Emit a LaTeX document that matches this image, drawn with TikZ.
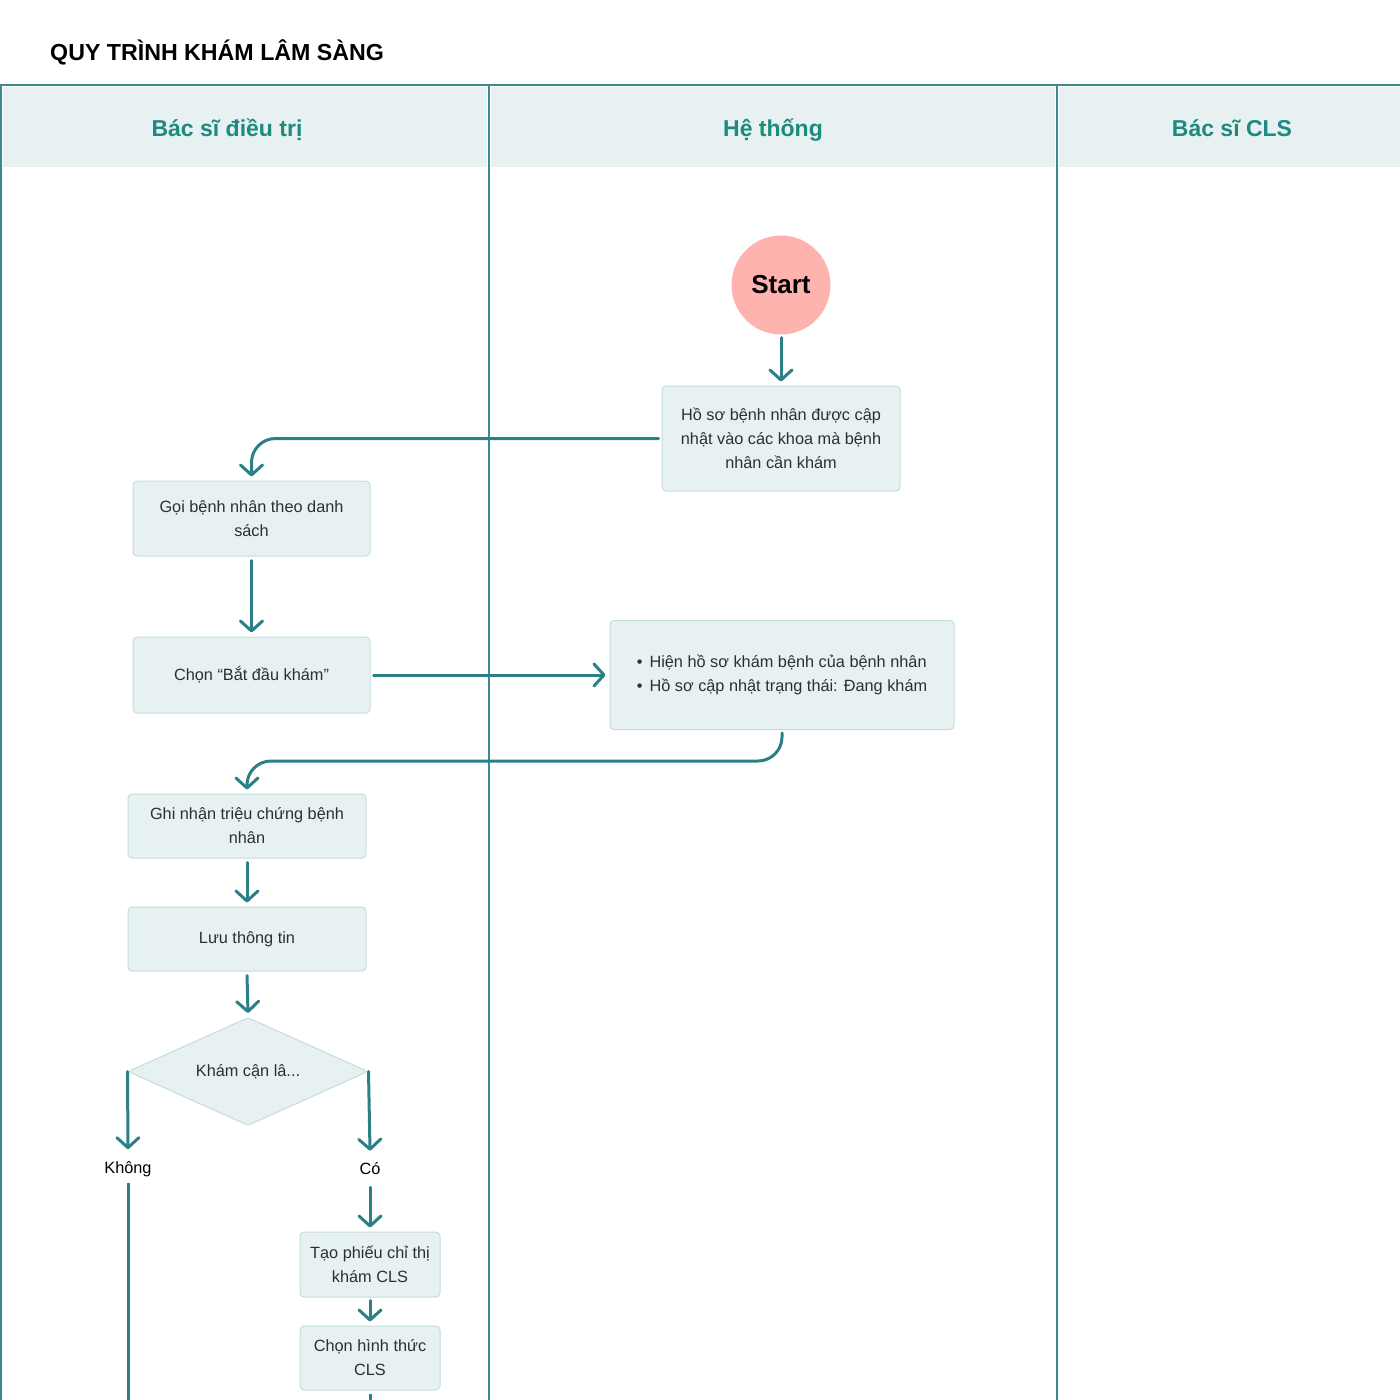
\documentclass[tikz,border=0pt]{standalone}
\usepackage{fontspec}
\setmainfont{Liberation Sans}
\usetikzlibrary{arrows.meta,shapes.geometric}
\definecolor{tealc}{HTML}{2B8086}
\definecolor{lanec}{HTML}{3A8A8E}
\definecolor{headfill}{HTML}{E8F1F2}
\definecolor{headtxt}{HTML}{1E897F}
\definecolor{boxfill}{HTML}{E8F1F2}
\definecolor{boxline}{HTML}{C3DDDF}
\definecolor{txt}{HTML}{2E2E2E}
\definecolor{startfill}{HTML}{FFB3AF}
\tikzset{
  body/.style={font=\fontsize{16.3}{24}\selectfont, text=txt},
  stepbox/.style={body, draw=boxline, fill=boxfill, line width=1pt, rounded corners=4pt, align=center, inner sep=0pt},
  decide/.style={body, diamond, aspect=2.3, draw=boxline, fill=boxfill, line width=1pt, rounded corners=3pt, inner sep=0pt, minimum width=240pt, minimum height=108pt},
  arr/.style={draw=tealc, line width=3pt, line cap=round, line join=round, -{Straight Barb[length=10pt,width=22pt,line cap=round,line join=round]}},
  plain/.style={draw=tealc, line width=3pt},
  lane/.style={draw=lanec, line width=2pt},
  lanehead/.style={font=\fontsize{23}{28}\selectfont\bfseries, text=headtxt},
  lbl/.style={font=\fontsize{16.3}{20}\selectfont, text=black, inner sep=2pt}
}
\begin{document}
\begin{tikzpicture}[x=1pt,y=-1pt]
\useasboundingbox (0,0) rectangle (1400,1400);
\fill[white] (0,0) rectangle (1400,1400);
% title
\node[anchor=base west, font=\fontsize{23.2}{28}\selectfont\bfseries, inner sep=0pt] (title) at (50,60) {QUY TRÌNH KHÁM LÂM SÀNG};
% header fills
\fill[headfill] (3,87) rectangle (487,167);
\fill[headfill] (491,87) rectangle (1055,167);
\fill[headfill] (1059,87) rectangle (1400,167);
% lane lines
\draw[lane] (0,85) -- (1400,85);
\draw[lane] (1,85) -- (1,1400);
\draw[lane] (489,85) -- (489,1400);
\draw[lane] (1057,85) -- (1057,1400);
% lane titles
\node[lanehead, anchor=base] (l1) at (227,136) {Bác sĩ điều trị};
\node[lanehead, anchor=base] (l2) at (773,136) {Hệ thống};
\node[lanehead, anchor=base] (l3) at (1232,136) {Bác sĩ CLS};
% nodes
\node[circle, fill=startfill, minimum size=99pt, inner sep=0pt, font=\fontsize{26}{30}\selectfont\bfseries] (start) at (781,285) {Start};
\node[stepbox, minimum width=238pt, minimum height=105pt] (b1) at (781,438.5) {Hồ sơ bệnh nhân được cập\\nhật vào các khoa mà bệnh\\nhân cần khám};
\node[stepbox, minimum width=237pt, minimum height=75pt] (b2) at (251.5,518.5) {Gọi bệnh nhân theo danh\\sách};
\node[stepbox, minimum width=237pt, minimum height=76pt] (b3) at (251.5,675) {Chọn “Bắt đầu khám”};
\node[stepbox, minimum width=344pt, minimum height=109pt, align=left] (b4) at (782,675) {\textbullet\hspace{7pt}Hiện hồ sơ khám bệnh của bệnh nhân\\\textbullet\hspace{7pt}Hồ sơ cập nhật trạng thái: Đang khám};
\node[stepbox, minimum width=238pt, minimum height=64pt] (b5) at (247,826) {Ghi nhận triệu chứng bệnh\\nhân};
\node[stepbox, minimum width=238pt, minimum height=64pt] (b6) at (247,939) {Lưu thông tin};
\node[decide] (d1) at (248,1071.5) {Khám cận lâ...};
\node[lbl] (no) at (128,1169) {Không};
\node[lbl] (yes) at (370,1169) {Có};
\node[stepbox, minimum width=140pt, minimum height=65pt] (b7) at (370,1264.5) {Tạo phiếu chỉ thị\\khám CLS};
\node[stepbox, minimum width=140pt, minimum height=64pt] (b8) at (370,1358) {Chọn hình thức\\CLS};
\coordinate (lv) at (500,761);
\coordinate (endno) at (128,1402);
\coordinate (endyes) at (370,1402);
% connectors
\draw[arr] ([yshift=-3pt]start.south) -- ([yshift=4pt]b1.north);
\draw[arr, rounded corners=24pt] ([xshift=-3pt]b1.west) -| ([yshift=4pt]b2.north);
\draw[arr] ([yshift=-4pt]b2.south) -- ([yshift=4pt]b3.north);
\draw[arr] ([xshift=3pt]b3.east) -- ([xshift=-4pt]b4.west);
\draw[arr, rounded corners=24pt] ([yshift=-3pt]b4.south) |- (lv) -| ([yshift=4pt]b5.north);
\draw[arr] ([yshift=-4pt]b5.south) -- ([yshift=4pt]b6.north);
\draw[arr] ([yshift=-4pt]b6.south) -- ([yshift=4pt]d1.north);
\draw[arr] (d1.west) -- ([yshift=10pt]no.north);
\draw[arr] (d1.east) -- ([yshift=10pt]yes.north);
\draw[plain] ([yshift=-4pt]no.south) -- (endno);
\draw[arr] ([yshift=-10pt]yes.south) -- ([yshift=4pt]b7.north);
\draw[arr] ([yshift=-3pt]b7.south) -- ([yshift=4pt]b8.north);
\draw[plain] ([yshift=-3pt]b8.south) -- (endyes);
\end{tikzpicture}
\end{document}
